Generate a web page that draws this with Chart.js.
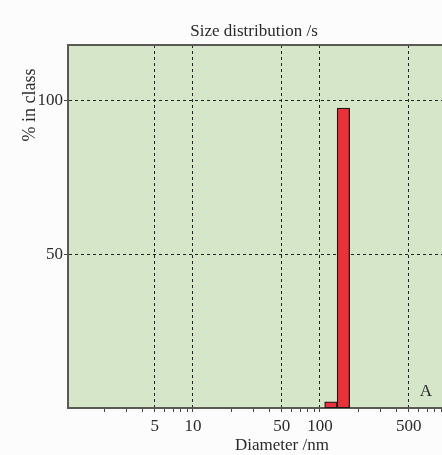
<!DOCTYPE html>
<html>
<head>
<meta charset="utf-8">
<script src="https://cdn.jsdelivr.net/npm/chart.js@4/dist/chart.umd.min.js"></script>
<style>
  html, body { margin: 0; padding: 0; background: #fcfcfc; overflow: hidden; }
  #wrap { position: absolute; left: 0; top: 0; width: 500px; height: 455px; }
</style>
</head>
<body>
<div id="wrap"><canvas id="sizechart" width="500" height="455"></canvas></div>
<script>
// bin centres (nm) and % in class
const diameters = [122, 153];
const percents = [2, 97.5];
// labelled ticks
const xTickLabels = [5, 10, 50, 100, 500];
const yTickValues = [50, 100];

const serif = '"Liberation Serif", "DejaVu Serif", serif';

// every 1..9 x 10^k between min and max, for the small marks
function logTicks(min, max) {
    var out = [];
    for (var p = 1; p <= max; p *= 10) {
        for (var m = 1; m < 10; m++) {
            var v = Math.round(m * p);
            if (v >= min && v <= max) out.push({ value: v });
        }
    }
    return out;
}

// background of the plot, top frame line and the loose texts
var decor = {
    id: 'decor',
    beforeDraw: function (chart) {
        var a = chart.chartArea, c = chart.ctx;
        c.save();
        c.fillStyle = '#d6e6c9';
        c.fillRect(a.left, a.top, a.right - a.left, a.bottom - a.top);
        c.restore();
    },
    afterDraw: function (chart) {
        var a = chart.chartArea, c = chart.ctx;
        c.save();
        c.strokeStyle = '#5a5a52';
        c.lineWidth = 2;
        c.beginPath();
        c.moveTo(a.left - 1, a.top);
        c.lineTo(a.right, a.top);
        c.stroke();

        c.fillStyle = '#2a2a2a';
        c.textAlign = 'center';
        c.textBaseline = 'middle';
        c.font = '17px ' + serif;
        c.fillText('Size distribution /s', 254, 32);
        c.fillText('A', 426, 392);

        c.translate(30, 105);
        c.rotate(-Math.PI / 2);
        c.font = '18px ' + serif;
        c.fillText('% in class', 0, 0);
        c.restore();
    }
};

var ctx = document.getElementById('sizechart').getContext('2d');
var chart = new Chart(ctx, {
    type: 'bar',
    data: {
        datasets: [{
            data: diameters.map(function (d, i) { return { x: d, y: percents[i] }; }),
            backgroundColor: '#e8313a',
            borderColor: '#1a1a1a',
            borderWidth: 1.3,
            borderSkipped: false,
            barThickness: 'flex',
            barPercentage: 1,
            categoryPercentage: 1
        }]
    },
    options: {
        responsive: false,
        animation: false,
        layout: { padding: { left: 0, top: 45, right: 4, bottom: 0 } },
        plugins: {
            legend: { display: false },
            tooltip: { enabled: false }
        },
        scales: {
            x: {
                type: 'logarithmic',
                offset: false,
                min: 1.04,
                max: 2430,
                afterBuildTicks: function (s) { s.ticks = logTicks(1.04, 2430); },
                afterFit: function (s) { s.height = 47; },
                ticks: {
                    autoSkip: false,
                    maxRotation: 0,
                    padding: 4,
                    color: '#2a2a2a',
                    font: { family: serif, size: 17 },
                    callback: function (v) { return xTickLabels.indexOf(v) >= 0 ? String(v) : ''; }
                },
                grid: {
                    offset: false,
                    color: function (c) {
                        return c.tick && xTickLabels.indexOf(c.tick.value) >= 0 ? '#222' : 'rgba(0,0,0,0)';
                    },
                    tickColor: '#444',
                    tickLength: 4,
                    lineWidth: 1
                },
                border: { display: true, color: '#5a5a52', width: 2, dash: [3, 3] },
                title: {
                    display: true,
                    text: 'Diameter /nm',
                    color: '#2a2a2a',
                    font: { family: serif, size: 17 },
                    padding: { top: 0, bottom: -1 }
                }
            },
            y: {
                min: 0,
                max: 118,
                afterBuildTicks: function (s) { s.ticks = yTickValues.map(function (v) { return { value: v }; }); },
                afterFit: function (s) { s.width = 68; },
                ticks: {
                    padding: 1,
                    color: '#2a2a2a',
                    font: { family: serif, size: 17 }
                },
                grid: { color: '#222', tickColor: '#444', tickLength: 4, lineWidth: 1 },
                border: { display: true, color: '#5a5a52', width: 2, dash: [3, 3] }
            }
        }
    },
    plugins: [decor]
});
</script>
</body>
</html>
